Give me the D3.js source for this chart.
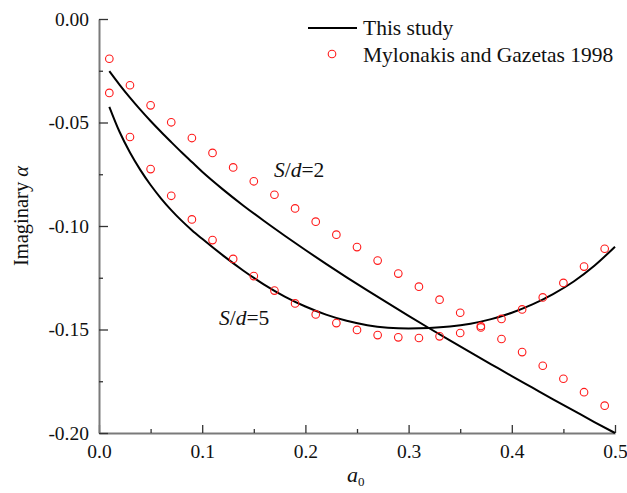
<!DOCTYPE html>
<html>
<head>
<meta charset="utf-8">
<script src="https://cdn.jsdelivr.net/npm/d3@7/dist/d3.min.js"></script>
<style>
  body { margin: 0; background: #fff; }
  svg text { font-family: "Liberation Serif", "Times New Roman", serif; fill: #111; }
</style>
</head>
<body>
<div id="chart"></div>
<script>
// a0 values where the reference markers sit
var markerA0 = [0.01, 0.03, 0.05, 0.07, 0.09, 0.11, 0.13, 0.15, 0.17, 0.19, 0.21, 0.23, 0.25,
                0.27, 0.29, 0.31, 0.33, 0.35, 0.37, 0.39, 0.41, 0.43, 0.45, 0.47, 0.49];
// Mylonakis and Gazetas 1998
var mgSd2 = [-0.0192, -0.0320, -0.0417, -0.0499, -0.0575, -0.0647, -0.0717, -0.0784, -0.0849,
             -0.0915, -0.0979, -0.1042, -0.1102, -0.1167, -0.1230, -0.1293, -0.1356, -0.1419,
             -0.1483, -0.1546, -0.1609, -0.1675, -0.1738, -0.1803, -0.1868];
var mgSd5 = [-0.0357, -0.0570, -0.0725, -0.0854, -0.0968, -0.1068, -0.1159, -0.1242, -0.1312,
             -0.1374, -0.1427, -0.1469, -0.1502, -0.1527, -0.1538, -0.1541, -0.1533, -0.1517,
             -0.1490, -0.1449, -0.1403, -0.1345, -0.1275, -0.1196, -0.1110];

// This study
var lineA0 = [0.01, 0.02, 0.03, 0.04, 0.05, 0.06, 0.07, 0.08, 0.09, 0.10, 0.12, 0.14, 0.16, 0.18,
              0.20, 0.22, 0.24, 0.26, 0.28, 0.30, 0.32, 0.34, 0.36, 0.38, 0.40, 0.42, 0.44,
              0.46, 0.48, 0.50];
var studySd2 = [-0.0252, -0.0318, -0.0380, -0.0438, -0.0493, -0.0545, -0.0595, -0.0644, -0.0691,
                -0.0738, -0.0823, -0.0902, -0.0976, -0.1047, -0.1116, -0.1183, -0.1248, -0.1311,
                -0.1373, -0.1434, -0.1494, -0.1553, -0.1611, -0.1668, -0.1725, -0.1781, -0.1837,
                -0.1892, -0.1947, -0.2000];
var studySd5 = [-0.0424, -0.0546, -0.0645, -0.0729, -0.0802, -0.0866, -0.0923, -0.0974, -0.1020,
                -0.1062, -0.1142, -0.1216, -0.1283, -0.1341, -0.1389, -0.1428, -0.1458, -0.1479,
                -0.1491, -0.1495, -0.1493, -0.1486, -0.1472, -0.1450, -0.1419, -0.1379, -0.1329,
                -0.1268, -0.1192, -0.1100];

var xTicks = [0, 0.1, 0.2, 0.3, 0.4, 0.5];
var xMinor = [0.05, 0.15, 0.25, 0.35, 0.45];
var yTicks = [0, -0.05, -0.10, -0.15, -0.20];
var yMinor = [-0.025, -0.075, -0.125, -0.175];

var margin = { top: 19, right: 12, bottom: 60, left: 99 },
    width = 627 - margin.left - margin.right,
    height = 493 - margin.top - margin.bottom;

var svg = d3.select("#chart")
  .append("svg")
  .attr("width", 627)
  .attr("height", 493)
  .append("g")
  .attr("transform", "translate(" + margin.left + "," + margin.top + ")");

var xscale = d3.scaleLinear().domain([0, 0.5]).range([0, 516]);
var yscale = d3.scaleLinear().domain([-0.2, 0]).range([414, 0]);

// axes, ticks pointing inward
svg.append("g")
  .attr("transform", "translate(0,414)")
  .call(d3.axisBottom(xscale).tickValues(xTicks).tickSizeInner(-8).tickSizeOuter(0)
        .tickPadding(11).tickFormat(function (d) { return d.toFixed(1); }));
svg.append("g")
  .attr("transform", "translate(0,414)")
  .call(d3.axisBottom(xscale).tickValues(xMinor).tickSizeInner(-4).tickSizeOuter(0).tickFormat(""))
  .select(".domain").remove();

svg.append("g")
  .call(d3.axisLeft(yscale).tickValues(yTicks).tickSizeInner(-9).tickSizeOuter(0)
        .tickPadding(10).tickFormat(function (d) { return d.toFixed(2); }));
svg.append("g")
  .call(d3.axisLeft(yscale).tickValues(yMinor).tickSizeInner(-4).tickSizeOuter(0).tickFormat(""))
  .select(".domain").remove();

svg.selectAll(".domain").attr("stroke", "#7a7a7a").attr("stroke-width", 2);
svg.selectAll(".tick line").attr("stroke", "#333").attr("stroke-width", 1.3);
svg.selectAll(".tick text").attr("font-size", 19.5).attr("font-family", "Liberation Serif").attr("fill", "#111");

// lines
var line = d3.line()
  .x(function (d) { return xscale(d[0]); })
  .y(function (d) { return yscale(d[1]); })
  .curve(d3.curveMonotoneX);

[studySd2, studySd5].forEach(function (vals) {
  svg.append("path")
    .datum(lineA0.map(function (a, i) { return [a, vals[i]]; }))
    .attr("d", line)
    .attr("fill", "none")
    .attr("stroke", "#000")
    .attr("stroke-width", 2);
});

// markers
[mgSd2, mgSd5].forEach(function (vals) {
  svg.selectAll(null)
    .data(markerA0.map(function (a, i) { return [a, vals[i]]; }))
    .enter()
    .append("circle")
    .attr("cx", function (d) { return xscale(d[0]); })
    .attr("cy", function (d) { return yscale(d[1]); })
    .attr("r", 3.8)
    .attr("fill", "none")
    .attr("stroke", "#ff1a1a")
    .attr("stroke-width", 1.1);
});

// annotations
function sdLabel(x, y, n) {
  var t = svg.append("text").attr("x", x).attr("y", y).attr("font-size", 21.5);
  t.append("tspan").attr("font-style", "italic").text("S");
  t.append("tspan").text("/");
  t.append("tspan").attr("font-style", "italic").text("d");
  t.append("tspan").text("=" + n);
}
sdLabel(175, 158, "2");
sdLabel(120, 306, "5");

// axis titles
svg.append("text")
  .attr("transform", "translate(-71,197) rotate(-90)")
  .attr("text-anchor", "middle")
  .attr("font-size", 20.5)
  .text("Imaginary ")
  .append("tspan").attr("font-style", "italic").text("α");

var xt = svg.append("text")
  .attr("x", 248).attr("y", 463)
  .attr("font-size", 22);
xt.append("tspan").attr("font-style", "italic").text("a");
xt.append("tspan").attr("font-size", 13).attr("dy", 4).text("0");

// legend
var lg = svg.append("g").attr("transform", "translate(209,9)");
lg.append("line").attr("x1", 0).attr("x2", 49).attr("y1", 0).attr("y2", 0)
  .attr("stroke", "#000").attr("stroke-width", 2);
lg.append("text").attr("x", 55).attr("y", 7).attr("font-size", 21.5).text("This study");
lg.append("circle").attr("cx", 24).attr("cy", 26).attr("r", 3.8)
  .attr("fill", "none").attr("stroke", "#ff1a1a").attr("stroke-width", 1.1);
lg.append("text").attr("x", 55).attr("y", 34).attr("font-size", 21.5).text("Mylonakis and Gazetas 1998");
</script>
</body>
</html>
